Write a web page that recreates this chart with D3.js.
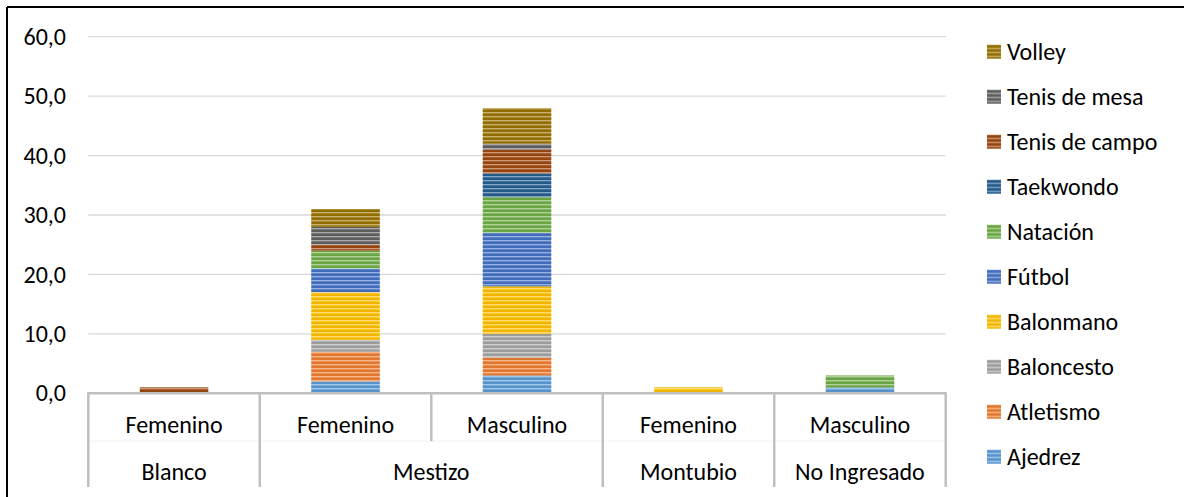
<!DOCTYPE html>
<html><head><meta charset="utf-8">
<script src="https://cdn.jsdelivr.net/npm/d3@7"></script>
<style>
html,body{margin:0;padding:0;background:#fff;}
svg{display:block;font-family:Carlito,Lato,"Open Sans",sans-serif;}
</style></head>
<body><svg id="chart" width="1184" height="497"></svg>
<script>
// ---- data ----
const groups  = ["Blanco","Mestizo","Mestizo","Montubio","No Ingresado"];
const genders = ["Femenino","Femenino","Masculino","Femenino","Masculino"];
const seriesNames = ["Ajedrez","Atletismo","Baloncesto","Balonmano","Fútbol","Natación","Taekwondo","Tenis de campo","Tenis de mesa","Volley"];
const ajedrez    = [0,2,3,0,1];
const atletismo  = [0,5,3,0,0];
const baloncesto = [0,2,4,0,0];
const balonmano  = [0,8,8,1,0];
const futbol     = [0,4,9,0,0];
const natacion   = [0,3,6,0,2];
const taekwondo  = [0,0,4,0,0];
const tenisCampo = [1,1,4,0,0];
const tenisMesa  = [0,3,1,0,0];
const volley     = [0,3,6,0,0];
const yTicks = [0,10,20,30,40,50,60];
const colors = ["#5B9BD5","#ED7D31","#A5A5A5","#FFC000","#4472C4","#70AD47","#255E91","#9E480E","#636363","#997300"];

const values = [ajedrez,atletismo,baloncesto,balonmano,futbol,natacion,taekwondo,tenisCampo,tenisMesa,volley];
const rows = genders.map((g,i)=>{const o={idx:i}; seriesNames.forEach((s,k)=>o[s]=values[k][i]); return o;});

const svg = d3.select("#chart");
const left=88.3, right=945.7, y0=393.3, yTop=36.7;
const FS = 24;

// patterns (horizontal stripes)
const defs = svg.append("defs");
seriesNames.forEach((s,k)=>{
  const c = d3.color(colors[k]);
  const light = d3.interpolateRgb(colors[k],"#ffffff")(0.45);
  const dark = c.darker(0.35).formatHex();
  const p = defs.append("pattern").attr("id","pat"+k).attr("patternUnits","userSpaceOnUse")
    .attr("width",8).attr("height",4);
  p.append("rect").attr("width",8).attr("height",4).attr("fill",colors[k]);
  p.append("rect").attr("y",0).attr("width",8).attr("height",1.3).attr("fill",light);
  p.append("rect").attr("y",2.6).attr("width",8).attr("height",0.9).attr("fill",dark);
});

const x = d3.scaleBand().domain(d3.range(genders.length)).range([left,right]).paddingInner(0.6).paddingOuter(0.3);
const y = d3.scaleLinear().domain([0,60]).range([y0,yTop]);
const loc = d3.formatLocale({decimal:",",thousands:".",grouping:[3],currency:["","€"]});
const fmt = loc.format(".1f");

// border
svg.append("line").attr("x1",7).attr("x2",1184).attr("y1",7).attr("y2",7).attr("stroke","#000").attr("stroke-width",2);
svg.append("line").attr("x1",7).attr("x2",7).attr("y1",7).attr("y2",497).attr("stroke","#000").attr("stroke-width",2);

// gridlines
svg.append("g").selectAll("line").data(yTicks.filter(d=>d>0)).join("line")
  .attr("x1",left).attr("x2",right).attr("y1",d=>y(d)).attr("y2",d=>y(d))
  .attr("stroke","#D9D9D9").attr("stroke-width",1.3);

// y axis labels
const yAxis = d3.axisLeft(y).tickValues(yTicks).tickFormat(fmt).tickSize(0).tickPadding(0);
const ya = svg.append("g").attr("transform","translate(66,0)").call(yAxis);
ya.select(".domain").remove();
ya.selectAll("text").attr("font-size",FS).attr("fill","#000").attr("font-family","Carlito,Lato,'Open Sans',sans-serif");

// bars
const stack = d3.stack().keys(seriesNames)(rows);
svg.append("g").selectAll("g").data(stack).join("g")
  .attr("fill",(d,k)=>`url(#pat${k})`)
  .selectAll("rect").data(d=>d.filter(v=>v[1]-v[0]>0)).join("rect")
  .attr("x",d=>x(d.data.idx)).attr("width",x.bandwidth())
  .attr("y",d=>y(d[1])).attr("height",d=>y(d[0])-y(d[1]));

// category axis
const axisCol="#BFBFBF";
const step=x.step(), bw=x.bandwidth();
const bound = i => i===0? left : (i===genders.length? right : x(i)-(step-bw)/2);
const lvl1Bottom=441, axBottom=487;
const ax = svg.append("g");
ax.append("line").attr("x1",left).attr("x2",right).attr("y1",lvl1Bottom).attr("y2",lvl1Bottom).attr("stroke","#F2F2F2").attr("stroke-width",1);
d3.range(genders.length+1).forEach(i=>{
  const groupEdge = i===0 || i===genders.length || groups[i]!==groups[i-1];
  ax.append("line").attr("x1",bound(i)).attr("x2",bound(i)).attr("y1",y0).attr("y2",groupEdge?axBottom:lvl1Bottom)
    .attr("stroke",axisCol).attr("stroke-width",2.5);
});
ax.append("line").attr("x1",left-1).attr("x2",right+1).attr("y1",y0).attr("y2",y0).attr("stroke",axisCol).attr("stroke-width",2.5);
ax.selectAll("text.g1").data(genders).join("text").attr("class","g1")
  .attr("x",(d,i)=>x(i)+bw/2).attr("y",425).attr("dy","0.35em").attr("text-anchor","middle")
  .attr("font-size",FS).text(d=>d);
const spans=[]; groups.forEach((g,i)=>{ if(i===0||g!==groups[i-1]) spans.push({g,s:i,e:i}); else spans[spans.length-1].e=i;});
ax.selectAll("text.g2").data(spans).join("text").attr("class","g2")
  .attr("x",d=>(bound(d.s)+bound(d.e+1))/2).attr("y",472).attr("dy","0.35em").attr("text-anchor","middle")
  .attr("font-size",FS).text(d=>d.g);

// legend
const leg = svg.append("g");
const legOrder = d3.range(seriesNames.length).reverse();
const ly = d3.scalePoint().domain(legOrder).range([51.7,456.7]);
legOrder.forEach(k=>{
  const g = leg.append("g").attr("transform",`translate(987,${ly(k)})`);
  g.append("rect").attr("x",0).attr("y",-7).attr("width",14).attr("height",14).attr("fill",`url(#pat${k})`);
  g.append("text").attr("x",20).attr("y",0).attr("dy","0.35em").attr("font-size",FS).text(seriesNames[k]);
});
</script></body></html>
